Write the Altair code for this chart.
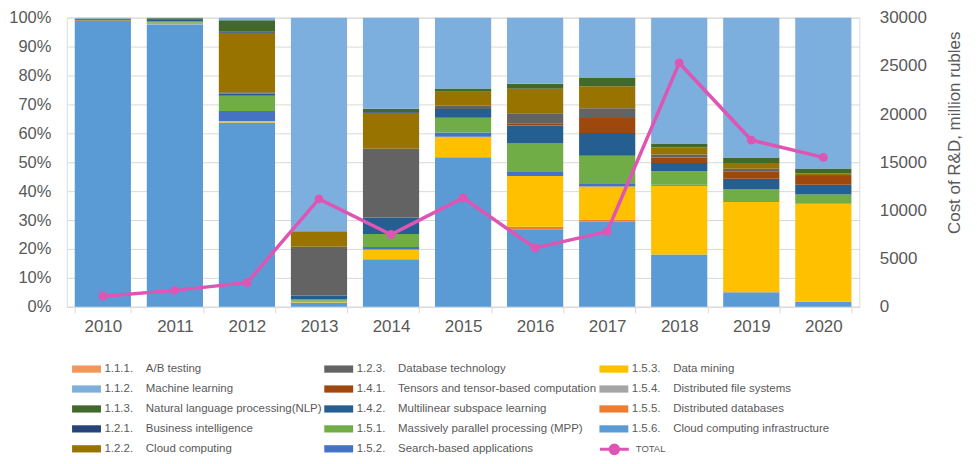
import altair as alt
import pandas as pd

years = ["2010", "2011", "2012", "2013", "2014", "2015", "2016", "2017", "2018", "2019", "2020"]

# series listed bottom -> top of each stacked bar (shares, %)
cloud_infra = [99.0, 97.6, 63.7, 1.5, 16.4, 51.7, 26.8, 29.4, 18.1, 5.0, 1.7]
dist_db     = [0.0, 0.0, 0.0, 0.0, 0.0, 0.0, 0.9, 0.8, 0.0, 0.0, 0.0]
dist_fs     = [0.0, 0.6, 0.0, 0.0, 0.0, 0.0, 0.0, 0.0, 0.0, 0.0, 0.0]
data_mining = [0.0, 0.0, 0.6, 0.3, 3.4, 7.1, 17.5, 11.4, 23.8, 31.2, 33.9]
search      = [0.0, 0.0, 3.4, 0.3, 0.9, 1.5, 1.7, 1.1, 0.3, 0.0, 0.0]
mpp         = [0.0, 0.5, 5.3, 0.6, 4.5, 5.1, 9.6, 9.5, 4.7, 4.5, 3.2]
multilinear = [0.0, 0.6, 0.8, 1.2, 5.7, 3.0, 6.2, 7.9, 2.8, 3.6, 3.4]
tensors     = [0.0, 0.0, 0.0, 0.0, 0.0, 0.0, 0.8, 5.2, 1.9, 2.6, 3.0]
db_tech     = [0.0, 0.0, 0.4, 16.9, 23.8, 1.1, 3.4, 3.4, 1.1, 0.8, 0.4]
cloud_comp  = [0.6, 0.0, 20.6, 5.3, 12.4, 4.9, 8.5, 7.6, 2.4, 2.0, 0.5]
bi          = [0.0, 0.2, 0.3, 0.0, 0.3, 0.0, 0.0, 0.0, 0.0, 0.0, 0.0]
nlp         = [0.0, 0.3, 4.0, 0.0, 1.1, 1.1, 1.7, 2.8, 1.4, 1.9, 1.7]
ml          = [0.3, 0.2, 0.9, 73.9, 31.5, 24.5, 22.9, 20.9, 43.5, 48.4, 52.2]
ab_testing  = [0.1, 0.0, 0.0, 0.0, 0.0, 0.0, 0.0, 0.0, 0.0, 0.0, 0.0]

total = [1100, 1700, 2500, 11200, 7500, 11300, 6100, 7800, 25300, 17300, 15500]

codes = ["1.5.6.", "1.5.5.", "1.5.4.", "1.5.3.", "1.5.2.", "1.5.1.", "1.4.2.",
         "1.4.1.", "1.2.3.", "1.2.2.", "1.2.1.", "1.1.3.", "1.1.2.", "1.1.1."]
names = ["Cloud computing infrastructure", "Distributed databases", "Distributed file systems",
         "Data mining", "Search-based applications", "Massively parallel processing (MPP)",
         "Multilinear subspace learning", "Tensors and tensor-based computation",
         "Database technology", "Cloud computing", "Business intelligence",
         "Natural language processing(NLP)", "Machine learning", "A/B testing"]
colors = ["#5B9BD5", "#ED7D31", "#A5A5A5", "#FFC000", "#4472C4", "#70AD47", "#255E91",
          "#9E480E", "#636363", "#997300", "#264478", "#43682B", "#7CAFDD", "#F1975A"]
series = [cloud_infra, dist_db, dist_fs, data_mining, search, mpp, multilinear,
          tensors, db_tech, cloud_comp, bi, nlp, ml, ab_testing]

GAP = "\u00a0" * 4
labels = [c + GAP + n for c, n in zip(codes, names)]

rows = []
for k, vals in enumerate(series):
    for y, v in zip(years, vals):
        rows.append({"year": y, "series": labels[k], "rank": k, "share": v})
bars_df = pd.DataFrame(rows)
line_df = pd.DataFrame({"year": years, "total": total, "name": ["TOTAL"] * len(years)})

# legend lists top-of-stack first (filled column by column)
legend_domain = labels[::-1]
legend_range = colors[::-1]

GREY = "#595959"
GRID = "#D9D9D9"
FONT = "Liberation Sans"
RECT = "M-2,-0.5H2V0.5H-2Z"
LINESYM = "M-2,0H2M-0.6,0A0.6,0.6,0,1,1,0.6,0A0.6,0.6,0,1,1,-0.6,0Z"

x_enc = alt.X("year:N", sort=years,
              scale=alt.Scale(paddingInner=0.22, paddingOuter=0.11),
              axis=alt.Axis(title=None, labelAngle=0, labelFontSize=17, labelColor=GREY,
                            labelFont=FONT, domainColor=GRID, tickColor=GRID, tickSize=6,
                            tickBand="extent", labelPadding=6, grid=False))

bars = alt.Chart(bars_df).mark_bar().encode(
    x=x_enc,
    y=alt.Y("share:Q", stack="normalize",
            scale=alt.Scale(domain=[0, 1], nice=False),
            axis=alt.Axis(title=None, values=[i / 10 for i in range(11)], format=".0%",
                          labelFontSize=16.5, labelColor=GREY, labelFont=FONT,
                          domain=False, ticks=False, labelPadding=16,
                          gridColor=GRID, gridWidth=1)),
    color=alt.Color("series:N",
                    scale=alt.Scale(domain=legend_domain, range=legend_range),
                    legend=alt.Legend(title=None, orient="none", legendX=5, legendY=345,
                                      columns=3, columnPadding=2, rowPadding=7,
                                      padding=0, symbolType=RECT, symbolSize=210,
                                      symbolStrokeWidth=0, symbolOffset=7.25,
                                      labelOffset=10.5, labelFontSize=11.5,
                                      labelColor=GREY, labelFont=FONT, labelLimit=400)),
    order=alt.Order("rank:Q", sort="ascending"),
)

line = alt.Chart(line_df).mark_line(
    strokeWidth=3.5,
    point=alt.OverlayMarkDef(size=78, filled=True, color="#DE55B4"),
).encode(
    x=alt.X("year:N", sort=years),
    y=alt.Y("total:Q", scale=alt.Scale(domain=[0, 30000], nice=False),
            axis=alt.Axis(orient="right", values=list(range(0, 30001, 5000)), format="d",
                          labelFontSize=17, labelColor=GREY, labelFont=FONT,
                          grid=False, domain=False, ticks=False, labelPadding=20,
                          title="Cost of R&D, million rubles", titleFontSize=17,
                          titleFont=FONT, titleFontWeight="normal", titleColor=GREY,
                          titleAngle=270, titleX=95, titleY=115,
                          titleAlign="center", titleBaseline="middle")),
    color=alt.Color("name:N", scale=alt.Scale(domain=["TOTAL"], range=["#DE55B4"]),
                    legend=alt.Legend(title=None, orient="none", legendX=533, legendY=424,
                                      padding=0, symbolType=LINESYM, symbolSize=210,
                                      symbolStrokeWidth=3, symbolOffset=7.25,
                                      symbolFillColor="#DE55B4",
                                      labelOffset=12.5, labelFontSize=9.5,
                                      labelColor=GREY, labelFont=FONT)),
)

chart = alt.layer(bars, line).resolve_scale(y="independent", color="independent").properties(
    width=795, height=290,
    autosize=alt.AutoSizeParams(type="none"),
    padding={"left": 59, "top": 9, "right": 110, "bottom": 150},
).configure_view(stroke=None).configure(font=FONT)

chart.save("out.html", embed_options={"renderer": "svg", "actions": False})
